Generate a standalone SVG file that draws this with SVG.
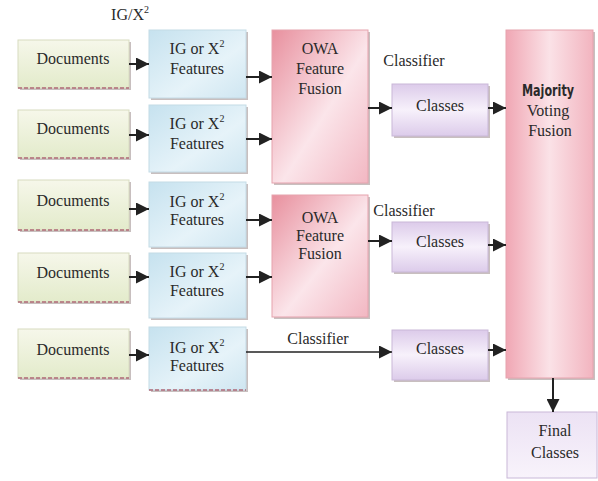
<svg xmlns="http://www.w3.org/2000/svg" width="598" height="481" viewBox="0 0 598 481">
<style>
text{font-family:"Liberation Serif","Times New Roman",serif;font-size:16px;fill:#2a2a2a;text-anchor:middle}
.doc{fill:url(#gDoc);stroke:#d8dcc0;stroke-width:1}
.ig{fill:url(#gIg);stroke:#c4dbe6;stroke-width:1}
.owa{fill:url(#gOwa);stroke:#e6a3ae;stroke-width:1}
.cls{fill:url(#gCls);stroke:#c9b8d8;stroke-width:1}
.fin{fill:url(#gFin);stroke:#c9b8d8;stroke-width:1}
.sh{fill:#9a8a8a;opacity:0.55}
.bl{stroke:#b06a78;stroke-width:1.5;stroke-dasharray:4 2;fill:none}
.ar{stroke:#222;stroke-width:2;fill:none;marker-end:url(#ah)}
.arT{stroke:#222;stroke-width:1.3;fill:none;marker-end:url(#ah2)}
.bold{font-family:"Liberation Sans Narrow","DejaVu Sans Condensed","Liberation Sans",sans-serif;font-weight:bold;font-size:15px}
</style>
<defs>
<linearGradient id="gDoc" x1="0" y1="0" x2="0" y2="1"><stop offset="0" stop-color="#f6f7ea"/><stop offset="1" stop-color="#e3ebcb"/></linearGradient>
<linearGradient id="gIg" x1="0" y1="0" x2="1" y2="1"><stop offset="0" stop-color="#c6e2ef"/><stop offset="0.6" stop-color="#e6f3f9"/><stop offset="1" stop-color="#cfe6f1"/></linearGradient>
<linearGradient id="gOwa" x1="0" y1="0" x2="1" y2="1"><stop offset="0" stop-color="#e8909e"/><stop offset="0.55" stop-color="#fbe5ea"/><stop offset="1" stop-color="#f2b7c2"/></linearGradient>
<linearGradient id="gMaj" x1="0" y1="0" x2="1" y2="0"><stop offset="0" stop-color="#f0a7b4"/><stop offset="0.5" stop-color="#fbe2e7"/><stop offset="1" stop-color="#f2b4bf"/></linearGradient>
<linearGradient id="gCls" x1="0" y1="0" x2="0" y2="1"><stop offset="0" stop-color="#dccbea"/><stop offset="0.5" stop-color="#f7f1fb"/><stop offset="1" stop-color="#dccbea"/></linearGradient>
<linearGradient id="gFin" x1="0" y1="0" x2="0" y2="1"><stop offset="0" stop-color="#ece2f4"/><stop offset="1" stop-color="#f8f3fb"/></linearGradient>
<marker id="ah" viewBox="0 0 10 10" refX="10" refY="5" markerWidth="7" markerHeight="6.5" orient="auto" markerUnits="strokeWidth"><path d="M0,0L10,5L0,10z" fill="#222"/></marker>
<marker id="ah2" viewBox="0 0 10 10" refX="10" refY="5" markerWidth="11" markerHeight="10" orient="auto" markerUnits="strokeWidth"><path d="M0,0L10,5L0,10z" fill="#222"/></marker>
</defs>

<text x="130" y="20">IG/X<tspan font-size="10" dy="-7">2</tspan></text>
<text x="414" y="66">Classifier</text>
<text x="404" y="216">Classifier</text>
<text x="318" y="344">Classifier</text>

<g id="doc1"><rect class="sh" x="20" y="42" width="111" height="48"/><rect class="doc" x="18" y="40" width="111" height="48"/><line class="bl" x1="18" y1="88" x2="129" y2="88"/><text x="73" y="64" font-size="17">Documents</text></g>
<g id="doc2"><rect class="sh" x="20" y="112" width="111" height="48"/><rect class="doc" x="18" y="110" width="111" height="48"/><line class="bl" x1="18" y1="158" x2="129" y2="158"/><text x="73" y="134" font-size="17">Documents</text></g>
<g id="doc3"><rect class="sh" x="20" y="182" width="111" height="50"/><rect class="doc" x="18" y="180" width="111" height="50"/><line class="bl" x1="18" y1="230" x2="129" y2="230"/><text x="73" y="206" font-size="17">Documents</text></g>
<g id="doc4"><rect class="sh" x="20" y="255" width="111" height="49"/><rect class="doc" x="18" y="253" width="111" height="49"/><line class="bl" x1="18" y1="302" x2="129" y2="302"/><text x="73" y="278" font-size="17">Documents</text></g>
<g id="doc5"><rect class="sh" x="20" y="331" width="111" height="49"/><rect class="doc" x="18" y="329" width="111" height="49"/><line class="bl" x1="18" y1="378" x2="129" y2="378"/><text x="73" y="355" font-size="17">Documents</text></g>

<g id="ig1"><rect class="sh" x="151" y="32" width="97" height="68"/><rect class="ig" x="149" y="30" width="97" height="68"/><text x="197" y="54">IG or X<tspan font-size="10" dy="-7">2</tspan></text><text x="197" y="74">Features</text></g>
<g id="ig2"><rect class="sh" x="151" y="107" width="97" height="67"/><rect class="ig" x="149" y="105" width="97" height="67"/><text x="197" y="129">IG or X<tspan font-size="10" dy="-7">2</tspan></text><text x="197" y="149">Features</text></g>
<g id="ig3"><rect class="sh" x="151" y="184" width="97" height="65"/><rect class="ig" x="149" y="182" width="97" height="65"/><text x="197" y="207">IG or X<tspan font-size="10" dy="-7">2</tspan></text><text x="197" y="225">Features</text></g>
<g id="ig4"><rect class="sh" x="151" y="255" width="97" height="65"/><rect class="ig" x="149" y="253" width="97" height="65"/><text x="197" y="277">IG or X<tspan font-size="10" dy="-7">2</tspan></text><text x="197" y="296">Features</text></g>
<g id="ig5"><rect class="sh" x="151" y="329" width="97" height="63"/><rect class="ig" x="149" y="327" width="97" height="63"/><line class="bl" x1="149" y1="390" x2="246" y2="390"/><text x="197" y="353">IG or X<tspan font-size="10" dy="-7">2</tspan></text><text x="197" y="371">Features</text></g>

<g id="owa1"><rect class="sh" x="274" y="32" width="96" height="153"/><rect class="owa" x="272" y="30" width="96" height="153"/><text x="320" y="54">OWA</text><text x="320" y="74">Feature</text><text x="320" y="94">Fusion</text></g>
<g id="owa2"><rect class="sh" x="274" y="197" width="96" height="122"/><rect class="owa" x="272" y="195" width="96" height="122"/><text x="320" y="223">OWA</text><text x="320" y="241">Feature</text><text x="320" y="259">Fusion</text></g>

<g id="cls1"><rect class="sh" x="394" y="86" width="96" height="52"/><rect class="cls" x="392" y="84" width="96" height="52"/><text x="440" y="111">Classes</text></g>
<g id="cls2"><rect class="sh" x="394" y="224" width="96" height="50"/><rect class="cls" x="392" y="222" width="96" height="50"/><text x="440" y="247">Classes</text></g>
<g id="cls3"><rect class="sh" x="394" y="332" width="96" height="50"/><rect class="cls" x="392" y="330" width="96" height="50"/><text x="440" y="354">Classes</text></g>

<g id="maj"><rect class="sh" x="508" y="32" width="87" height="348"/><rect x="506" y="30" width="87" height="348" fill="url(#gMaj)" stroke="#e6a3ae"/><text class="bold" x="548" y="96" textLength="52" lengthAdjust="spacingAndGlyphs">Majority</text><text x="548" y="116">Voting</text><text x="550" y="136">Fusion</text></g>
<g id="final"><rect class="fin" x="507" y="412" width="90" height="66"/><text x="555" y="436">Final</text><text x="555" y="458">Classes</text></g>

<g id="connectors">
<line class="ar" x1="129" y1="64" x2="149" y2="64"/>
<line class="ar" x1="246" y1="77" x2="272" y2="77"/>
<line class="ar" x1="129" y1="135" x2="149" y2="135"/>
<line class="ar" x1="246" y1="139" x2="272" y2="139"/>
<line class="ar" x1="129" y1="209" x2="149" y2="209"/>
<line class="ar" x1="246" y1="220" x2="272" y2="220"/>
<line class="ar" x1="129" y1="277" x2="149" y2="277"/>
<line class="ar" x1="246" y1="277" x2="272" y2="277"/>
<line class="ar" x1="129" y1="355" x2="149" y2="355"/>
<line class="arT" x1="246" y1="352" x2="392" y2="352"/>
<line class="ar" x1="368" y1="108" x2="392" y2="108"/>
<line class="ar" x1="488" y1="108" x2="506" y2="108"/>
<line class="ar" x1="368" y1="241" x2="392" y2="241"/>
<line class="ar" x1="488" y1="245" x2="506" y2="245"/>
<line class="ar" x1="488" y1="350" x2="506" y2="350"/>
<line class="ar" x1="553" y1="378" x2="553" y2="412"/>
</g>
</svg>
